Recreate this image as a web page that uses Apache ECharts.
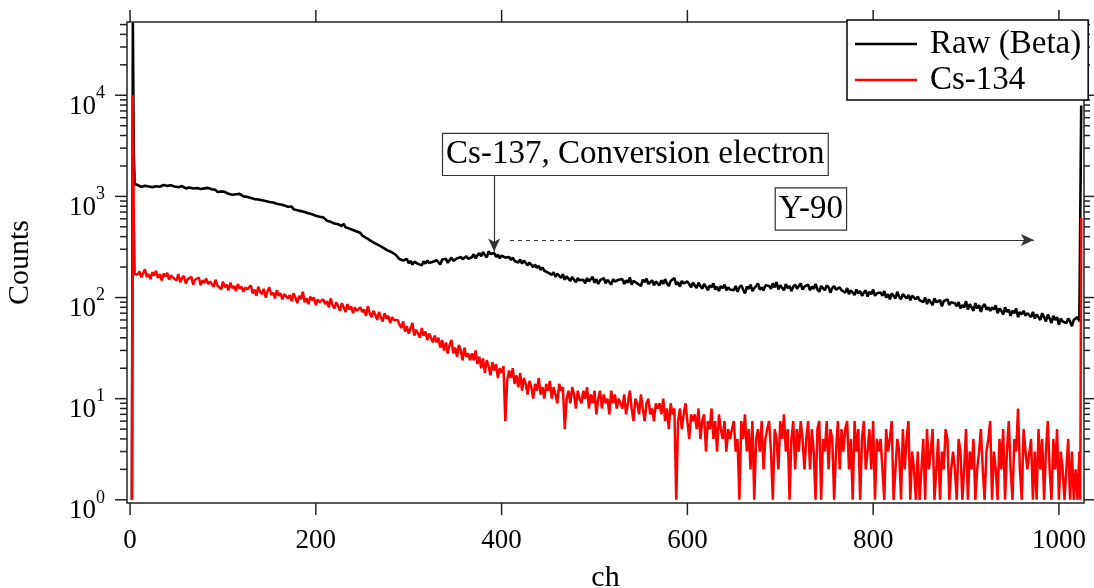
<!DOCTYPE html>
<html>
<head>
<meta charset="utf-8">
<script src="https://cdn.jsdelivr.net/npm/echarts@6/dist/echarts.min.js"></script>
<style>html,body{margin:0;padding:0;background:#fff;}#chart{width:1094px;height:588px;}</style>
</head>
<body>
<div id="chart"></div>
<script>
// ---------------- data ----------------
const seriesNames = ['Raw (Beta)', 'Cs-134'];
// body channels: 8, 10, ..., 1016 (every 2nd channel)
const bodyStart = 8, bodyStep = 2;
const rawBody = [
  1300,1265,1240,1290,1275,1310,1255,1270,1235,1285,1260,1300,1245,1280,1295,1250,1270,1230,1290,1260,
  1255,1280,1230,1215,1265,1240,1200,1250,1225,1260,1195,1230,1210,1245,1185,1220,1200,1170,1215,1180,
  1175,1140,1160,1105,1135,1120,1080,1110,1095,1060,1085,1040,1070,1050,1015,1060,1030,1000,1020,990,
  1000,965,985,940,970,930,955,915,940,900,920,880,905,870,890,845,870,830,850,815,
  820,790,760,795,745,770,730,755,715,735,700,720,680,705,665,690,645,670,630,650,
  620,595,575,600,560,585,540,565,530,550,510,535,495,515,480,500,465,485,450,470,
  435,410,420,390,400,370,385,350,365,335,345,320,330,305,315,290,300,280,285,265,
  255,240,248,232,225,240,218,230,212,226,235,215,222,208,228,216,232,220,212,226,
  218,234,226,212,238,228,242,220,235,248,230,225,244,236,252,240,232,255,242,236,
  250,268,244,262,275,256,282,262,250,286,270,258,276,252,266,244,260,270,248,256,
  252,236,248,230,240,222,238,216,232,224,208,222,214,200,212,196,206,188,198,184,
  192,176,184,168,178,160,172,165,156,170,150,162,158,146,160,150,142,156,148,152,
  150,138,156,144,148,160,140,152,136,148,142,156,138,150,146,134,152,144,140,150,
  144,152,136,148,140,158,134,146,152,138,144,130,150,142,154,136,140,148,132,144,
  140,132,148,136,152,138,130,146,140,156,134,142,128,146,138,132,144,136,126,140,
  136,124,140,130,122,136,128,118,132,126,138,120,128,116,130,124,134,118,126,120,
  124,118,130,114,126,132,120,110,128,122,134,116,124,130,138,120,126,118,132,128,
  130,122,138,126,142,120,132,128,118,136,124,130,116,128,134,122,126,138,120,128,
  126,134,118,128,122,136,120,114,130,124,118,132,126,112,124,130,120,116,126,118,
  120,112,124,108,118,114,106,120,110,116,104,112,118,102,114,108,120,104,110,106,
  112,104,116,100,108,96,110,104,98,114,102,96,108,112,98,106,94,104,100,96,
  102,94,98,90,100,86,96,92,84,98,90,86,94,82,92,88,96,84,90,86,
  88,82,90,78,84,80,92,76,86,80,74,88,78,84,72,82,86,76,80,74,
  80,76,84,70,78,74,68,80,72,76,66,74,70,78,64,72,68,74,66,70,
  70,64,72,62,68,66,60,70,64,58,68,62,56,66,60,64,54,62,58,60,
  56,62,58,52,60
];
const csBody = [
  168,182,158,174,190,160,170,152,178,165,184,156,170,148,172,162,176,150,166,158,
  160,148,170,142,156,164,138,152,146,160,134,150,144,158,132,148,140,154,136,144,
  142,128,150,132,138,120,144,126,134,118,140,124,130,116,136,122,128,114,126,120,
  124,132,110,120,104,128,114,108,122,100,116,126,106,112,98,118,104,110,96,108,
  112,98,106,92,110,100,88,104,96,114,90,98,86,102,94,100,84,96,90,92,
  96,86,92,80,98,84,78,90,82,74,88,80,72,86,76,82,70,80,74,76,
  80,72,76,66,82,70,64,74,68,60,72,64,58,70,62,66,56,64,60,58,
  60,54,50,58,46,52,44,50,56,42,48,44,40,50,42,46,38,44,40,36,
  42,36,40,32,38,30,36,28,34,38,28,32,26,34,30,24,32,26,28,24,
  28,24,30,22,26,20,25,18,24,21,17,23,19,22,16,20,18,21,6,15,
  19,16,20,14,17,13,18,12,16,14,11,15,13,10,14,12,16,11,13,10,
  14,12,15,10,13,11,9,14,12,13,5,10,12,9,13,11,8,12,10,9,
  12,10,13,8,11,9,12,7,10,12,8,11,9,10,7,12,9,11,8,10,
  10,8,11,7,9,12,8,6,10,9,7,11,8,6,9,10,7,8,6,9,
  8,9,7,10,6,8,5,9,7,8,1,6,8,5,7,9,6,4,7,6,
  7,5,8,4,6,7,3,6,5,8,4,6,3,7,5,4,6,3,5,4,
  5,6,3,4,1,6,4,7,3,5,2,6,1,4,5,3,6,2,4,5,
  6,3,1,5,4,2,6,4,7,3,5,1,4,6,2,5,3,6,4,2,
  4,6,2,5,3,1,5,6,1,4,3,6,2,5,4,1,3,6,2,5,
  3,5,6,2,4,1,6,3,5,1,4,6,2,3,5,2,6,1,4,3,
  4,2,1,5,3,4,6,1,2,4,3,1,5,2,4,6,1,3,2,1,
  3,1,2,4,1,5,2,3,5,1,2,4,1,3,2,5,4,1,2,3,
  2,1,4,3,1,2,5,1,3,2,4,1,2,3,5,2,1,3,4,6,
  1,3,2,1,4,2,5,1,3,6,2,1,4,3,8,2,1,5,3,2,
  2,4,1,3,1,5,2,4,1,3,6,2,1,4,2,5,1,3,2,1,
  2,4,1,3,1
];
// spikes at both ends of the spectrum
const leftCh  = [2, 3, 4, 5, 6];
const rawLeft = [1, 52000, 2600, 1320, 1280];
const csLeft  = [1, 10000, 600, 172, 168];
const rightCh  = [1018, 1020, 1022, 1023, 1024];
const rawRight = [62, 64, 58, 60, 7900];
const csRight  = [2, 1, 3, 1, 610];

// axes
const xMin = -3.3, xMax = 1027;
const yMin = 0.93, yMax = 53000;
const xTicks = [0, 200, 400, 600, 800, 1000];
const yMajor = [1, 10, 100, 1000, 10000];
const yMinorMult = [2, 3, 4, 5, 6, 7, 8, 9];

// annotations
const annotTexts = ['Cs-137, Conversion electron', 'Y-90'];
const annotPos = [[544, 2600], [733, 750]];
const arrowCs137 = [[392, 1620], [392, 285]];
const y90Dashed = [[409, 370], [481, 370]];
const y90Solid = [[481, 370], [973, 370]];

// ---------------- build ----------------
function buildSeries(lCh, lVal, body, rCh, rVal) {
  const out = [];
  lCh.forEach((c, i) => out.push([c, lVal[i]]));
  body.forEach((v, i) => out.push([bodyStart + i * bodyStep, v]));
  rCh.forEach((c, i) => out.push([c, rVal[i]]));
  return out;
}
const rawData = buildSeries(leftCh, rawLeft, rawBody, rightCh, rawRight);
const csData = buildSeries(leftCh, csLeft, csBody, rightCh, csRight);

const tickData = [];
xTicks.forEach(v => tickData.push([v, 1, 2]));
yMajor.forEach(d => {
  tickData.push([0, d, 1]);
  yMinorMult.forEach(m => { const v = m * d; if (v <= yMax) tickData.push([0, v, 0]); });
});

const FONT = '"Liberation Serif", "DejaVu Serif", serif';
const AX = '#222';

const chart = echarts.init(document.getElementById('chart'), null, {renderer: 'canvas'});
chart.setOption({
  animation: false,
  backgroundColor: '#fff',
  grid: {left: 127, right: 10, top: 22, bottom: 85, containLabel: false, outerBoundsMode: 'none',
         show: true, borderColor: AX, borderWidth: 1.5, backgroundColor: 'transparent'},
  legend: {
    data: seriesNames.map(n => ({name: n, icon: 'rect'})),
    orient: 'vertical',
    left: 847, top: 20,
    padding: [7, 7, 3, 8],
    itemGap: 2,
    itemWidth: 62, itemHeight: 2.5,
    backgroundColor: '#fff',
    borderColor: '#000', borderWidth: 1.5,
    textStyle: {fontFamily: FONT, fontSize: 33, color: '#000', lineHeight: 34, padding: [0, 0, 0, 8]},
    z: 20
  },
  xAxis: {
    type: 'value', min: xMin, max: xMax, splitNumber: 5,
    name: 'ch', nameLocation: 'middle', nameGap: 60,
    nameTextStyle: {fontFamily: FONT, fontSize: 30, color: '#000'},
    axisLine: {show: false}, axisTick: {show: false}, splitLine: {show: false},
    axisLabel: {
      margin: 24, fontFamily: FONT, fontSize: 27, color: '#000',
      showMinLabel: false, showMaxLabel: false,
      formatter: v => (xTicks.indexOf(Math.round(v)) >= 0 && Math.abs(v - Math.round(v)) < 1e-6) ? String(Math.round(v)) : ''
    }
  },
  yAxis: {
    type: 'log', logBase: 10, min: yMin, max: yMax, splitNumber: 5,
    name: 'Counts', nameLocation: 'middle', nameGap: 92,
    nameTextStyle: {fontFamily: FONT, fontSize: 30, color: '#000'},
    axisLine: {show: false}, axisTick: {show: false}, splitLine: {show: false}, minorTick: {show: false},
    axisLabel: {
      margin: 22, showMinLabel: false, showMaxLabel: false,
      padding: [14, 0, 0, 0],
      formatter: v => {
        const l = Math.log10(v), k = Math.round(l);
        if (Math.abs(l - k) > 1e-6) return '';
        return '{b|10}{s|' + k + '}';
      },
      rich: {
        b: {fontFamily: FONT, fontSize: 27, color: '#000', verticalAlign: 'bottom', lineHeight: 36},
        s: {fontFamily: FONT, fontSize: 18, color: '#000', verticalAlign: 'top', lineHeight: 36}
      }
    }
  },
  series: [
    {
      name: seriesNames[0], type: 'line', data: rawData, symbol: 'none', showSymbol: false,
      lineStyle: {color: '#000', width: 2.6}, itemStyle: {color: '#000'}, z: 3,
      markLine: {
        silent: true, symbolSize: [9, 13], label: {show: false},
        lineStyle: {color: '#333', width: 1.2, type: 'solid'},
        data: [
          [{coord: arrowCs137[0], symbol: 'none'}, {coord: arrowCs137[1], symbol: 'arrow'}],
          [{coord: y90Dashed[0], symbol: 'none', lineStyle: {type: [4, 4], color: '#333', width: 1.2}}, {coord: y90Dashed[1], symbol: 'none'}],
          [{coord: y90Solid[0], symbol: 'none'}, {coord: y90Solid[1], symbol: 'arrow'}]
        ]
      }
    },
    {
      name: seriesNames[1], type: 'line', data: csData, symbol: 'none', showSymbol: false,
      lineStyle: {color: '#ff0000', width: 2.5}, itemStyle: {color: '#ff0000'}, z: 4
    },
    {
      type: 'custom', silent: true, z: 10, clip: false,
      data: tickData,
      renderItem: (params, api) => {
        const c = params.coordSys;
        const code = api.value(2);
        const st = {stroke: AX, lineWidth: 1.5};
        if (code === 2) {
          const px = api.coord([api.value(0), yMajor[0]])[0];
          const b = c.y + c.height;
          return {type: 'group', children: [
            {type: 'line', shape: {x1: px, y1: b, x2: px, y2: b + 12}, style: st},
            {type: 'line', shape: {x1: px, y1: c.y, x2: px, y2: c.y - 12}, style: st}
          ]};
        }
        const py = api.coord([0, api.value(1)])[1];
        const major = code === 1;
        const r = c.x + c.width;
        return {type: 'group', children: [
          {type: 'line', shape: {x1: c.x - (major ? 12 : 7), y1: py, x2: c.x, y2: py}, style: st},
          {type: 'line', shape: {x1: r, y1: py, x2: r + (major ? 10 : 6), y2: py}, style: st}
        ]};
      }
    },
    {
      type: 'custom', silent: true, z: 12, clip: false,
      data: annotPos.map((p, i) => [p[0], p[1], i]),
      renderItem: (params, api) => {
        const p = api.coord([api.value(0), api.value(1)]);
        return {
          type: 'text', x: p[0], y: p[1],
          style: {
            text: annotTexts[api.value(2)], font: '33px ' + FONT, fill: '#000',
            align: 'center', verticalAlign: 'middle',
            backgroundColor: '#fff', borderColor: '#333', borderWidth: 1.2, padding: [4, 3, 4, 3]
          }
        };
      }
    }
  ]
});
</script>
</body>
</html>
